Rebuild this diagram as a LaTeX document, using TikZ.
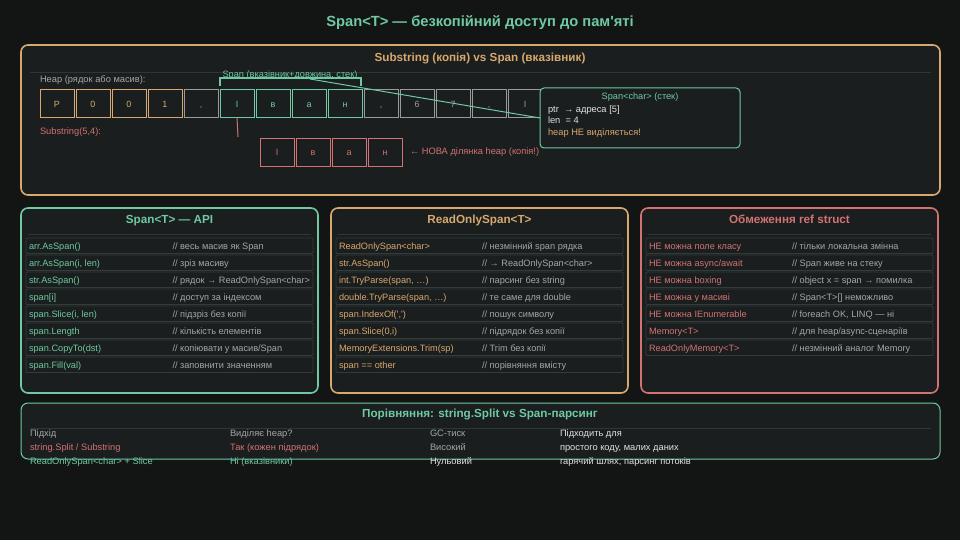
\documentclass[tikz,border=0pt]{standalone}
\usepackage{fontspec}
\setmainfont{Liberation Sans}[Ligatures=TeXOff]
\definecolor{bgc}{HTML}{131515}
\definecolor{panelc}{HTML}{1A1E1E}
\definecolor{tealc}{HTML}{6FC9A2}
\definecolor{tanc}{HTML}{D8A86E}
\definecolor{redc}{HTML}{D27272}
\definecolor{greyc}{HTML}{A6A6A6}
\definecolor{cellgrey}{HTML}{9A9A9A}
\definecolor{whitec}{HTML}{E2E2E2}
\definecolor{rowline}{HTML}{333B3B}
\definecolor{sepc}{HTML}{2E3636}
\begin{document}
\begin{tikzpicture}[x=1pt,y=-1pt,
  every node/.style={inner sep=0pt,outer sep=0pt},
  panel/.style={draw, line width=1.6pt, fill=panelc, rounded corners=7pt, anchor=north west},
  ptitle/.style={font=\bfseries\fontsize{11.7}{13}\selectfont, text height=8.4pt, text depth=0pt},
  small/.style={font=\fontsize{9.3}{10}\selectfont, anchor=west, text height=6.66pt, text depth=0pt},
  rowtxt/.style={font=\fontsize{9.2}{10}\selectfont, anchor=west, text height=6.6pt, text depth=0pt},
  tabtxt/.style={font=\fontsize{9.3}{10}\selectfont, anchor=west, text height=6.66pt, text depth=0pt},
  cell/.style={draw, line width=1pt, minimum width=34pt, minimum height=28pt, font=\fontsize{9}{10}\selectfont, text height=6.45pt, text depth=0pt},
  rowbox/.style={draw=rowline, line width=0.8pt, fill=panelc, rounded corners=1pt, minimum height=15.5pt, anchor=north west},
  sepline/.style={draw=sepc, line width=0.8pt}
]
\useasboundingbox[fill=bgc] (0,0) rectangle (960,540);

% title
\node[font=\bfseries\fontsize{14.7}{16}\selectfont, text=tealc, text height=10.5pt, text depth=0pt] (title) at (480,21.7) {Span<T> — безкопійний доступ до пам'яті};

% ===== top panel =====
\node[panel, draw=tanc, minimum width=919pt, minimum height=150pt] (toppanel) at (21,45) {};
\node[ptitle, text=tanc] (toptitle) at (480,57.7) {Substring (копія) vs Span (вказівник)};
\draw[sepline] (30,72) -- (931,72);
\node[small, text=greyc] (heaplbl) at (40,78.8) {Heap (рядок або масив):};

\foreach \c/\col [count=\i] in {P/tanc,0/tanc,0/tanc,1/tanc,{,}/cellgrey,І/tealc,в/tealc,а/tealc,н/tealc,{,}/cellgrey,6/cellgrey,7/cellgrey,{,}/cellgrey,І/cellgrey}{
  \node[cell, draw=\col, text=\col] (cell\i) at ({57+36*(\i-1)},104) {\c};
}

% bracket
\coordinate (brA) at (220,86);
\coordinate (brB) at (361,86);
\draw[tealc, line width=2pt] (brA) -- (220,78) -- (361,78) -- (brB);
\node[font=\fontsize{9.2}{10}\selectfont, text=tealc, text height=6.6pt, text depth=0pt] (brlbl) at (290,74.3) {Span (вказівник+довжина, стек)};
\coordinate (brk) at (310,79);

% span box
\node[draw=tealc, line width=1pt, fill=panelc, rounded corners=4pt, minimum width=200pt, minimum height=60pt, anchor=north west] (spanbox) at (540,88) {};
\draw[tealc, line width=1pt] (brk) -- (spanbox.west);
\node[font=\fontsize{9.2}{10}\selectfont, text=tealc, text height=6.6pt, text depth=0pt] (spantitle) at (640,96.7) {Span<char> (стек)};
\node[small, text=whitec] (sptr) at (548,109.3) {ptr\ \ → адреса [5]};
\node[small, text=whitec] (slen) at (548,120.3) {len\ \ = 4};
\node[small, text=tanc] (sheap) at (548,132.3) {heap НЕ виділяється!};

% substring
\node[small, text=redc] (sublbl) at (40,130.8) {Substring(5,4):};
\coordinate (subend) at (238,137);
\draw[redc, line width=1pt] (cell6.south) -- (subend);
\foreach \c [count=\i] in {І,в,а,н}{
  \node[cell, draw=redc, text=redc] (rc\i) at ({277+36*(\i-1)},152.5) {\c};
}
\node[small, text=redc] (newlbl) at (410,151) {← НОВА ділянка heap (копія!)};

% ===== middle panels =====
% panel 1
\node[panel, draw=tealc, minimum width=297pt, minimum height=185pt] (p1) at (21,208) {};
\node[ptitle, text=tealc] (p1t) at (169.5,219.7) {Span<T> — API};
\draw[sepline] (28,234) -- (311,234);
\foreach \a/\b [count=\i] in {{arr.AsSpan()}/{// весь масив як Span},{arr.AsSpan(i, len)}/{// зріз масиву},{str.AsSpan()}/{// рядок → ReadOnlySpan<char>},{span[i]}/{// доступ за індексом},{span.Slice(i, len)}/{// підзріз без копії},{span.Length}/{// кількість елементів},{span.CopyTo(dst)}/{// копіювати у масив/Span},{span.Fill(val)}/{// заповнити значенням}}{
  \node[rowbox, minimum width=287pt] (p1r\i) at (26,{238+17*(\i-1)}) {};
  \node[rowtxt, text=tealc] (p1a\i) at (29,{246.3+17*(\i-1)}) {\a};
  \node[rowtxt, text=greyc] (p1b\i) at (172.5,{246.3+17*(\i-1)}) {\b};
}

% panel 2
\node[panel, draw=tanc, minimum width=297pt, minimum height=185pt] (p2) at (331,208) {};
\node[ptitle, text=tanc] (p2t) at (479.5,219.7) {ReadOnlySpan<T>};
\draw[sepline] (338,234) -- (621,234);
\foreach \a/\b [count=\i] in {{ReadOnlySpan<char>}/{// незмінний span рядка},{str.AsSpan()}/{// → ReadOnlySpan<char>},{int.TryParse(span, …)}/{// парсинг без string},{double.TryParse(span, …)}/{// те саме для double},{span.IndexOf(',')}/{// пошук символу},{span.Slice(0,i)}/{// підрядок без копії},{MemoryExtensions.Trim(sp)}/{// Trim без копії},{span == other}/{// порівняння вмісту}}{
  \node[rowbox, minimum width=287pt] (p2r\i) at (336,{238+17*(\i-1)}) {};
  \node[rowtxt, text=tanc] (p2a\i) at (339,{246.3+17*(\i-1)}) {\a};
  \node[rowtxt, text=greyc] (p2b\i) at (482,{246.3+17*(\i-1)}) {\b};
}

% panel 3
\node[panel, draw=redc, minimum width=297pt, minimum height=185pt] (p3) at (641,208) {};
\node[ptitle, text=redc] (p3t) at (789.5,219.7) {Обмеження ref struct};
\draw[sepline] (648,234) -- (931,234);
\foreach \a/\b [count=\i] in {{НЕ можна поле класу}/{// тільки локальна змінна},{НЕ можна async/await}/{// Span живе на стеку},{НЕ можна boxing}/{// object x = span → помилка},{НЕ можна у масиві}/{// Span<T>[] неможливо},{НЕ можна IEnumerable}/{// foreach OK, LINQ — ні},{Memory<T>}/{// для heap/async-сценаріїв},{ReadOnlyMemory<T>}/{// незмінний аналог Memory}}{
  \node[rowbox, minimum width=287pt] (p3r\i) at (646,{238+17*(\i-1)}) {};
  \node[rowtxt, text=redc] (p3a\i) at (649,{246.3+17*(\i-1)}) {\a};
  \node[rowtxt, text=greyc] (p3b\i) at (792,{246.3+17*(\i-1)}) {\b};
}

% ===== bottom panel =====
\node[panel, draw=tealc, line width=1pt, minimum width=919pt, minimum height=56pt] (bp) at (21,403) {};
\node[ptitle, text=tealc] (bpt) at (480,413.7) {Порівняння: string.Split vs Span-парсинг};
\draw[sepline] (30,428) -- (931,428);
\node[tabtxt, text=greyc] (h1) at (30,433) {Підхід};
\node[tabtxt, text=greyc] (h2) at (230,433) {Виділяє heap?};
\node[tabtxt, text=greyc] (h3) at (430,433) {GC-тиск};
\node[tabtxt, text=whitec] (h4) at (560,433) {Підходить для};
\node[tabtxt, text=redc] (r1a) at (30,447) {string.Split / Substring};
\node[tabtxt, text=redc] (r1b) at (230,447) {Так (кожен підрядок)};
\node[tabtxt, text=greyc] (r1c) at (430,447) {Високий};
\node[tabtxt, text=whitec] (r1d) at (560,447) {простого коду, малих даних};
\node[tabtxt, text=tealc] (r2a) at (30,461) {ReadOnlySpan<char> + Slice};
\node[tabtxt, text=tealc] (r2b) at (230,461) {Ні (вказівники)};
\node[tabtxt, text=whitec] (r2c) at (430,461) {Нульовий};
\node[tabtxt, text=whitec] (r2d) at (560,461) {гарячий шлях, парсинг потоків};
\end{tikzpicture}
\end{document}
